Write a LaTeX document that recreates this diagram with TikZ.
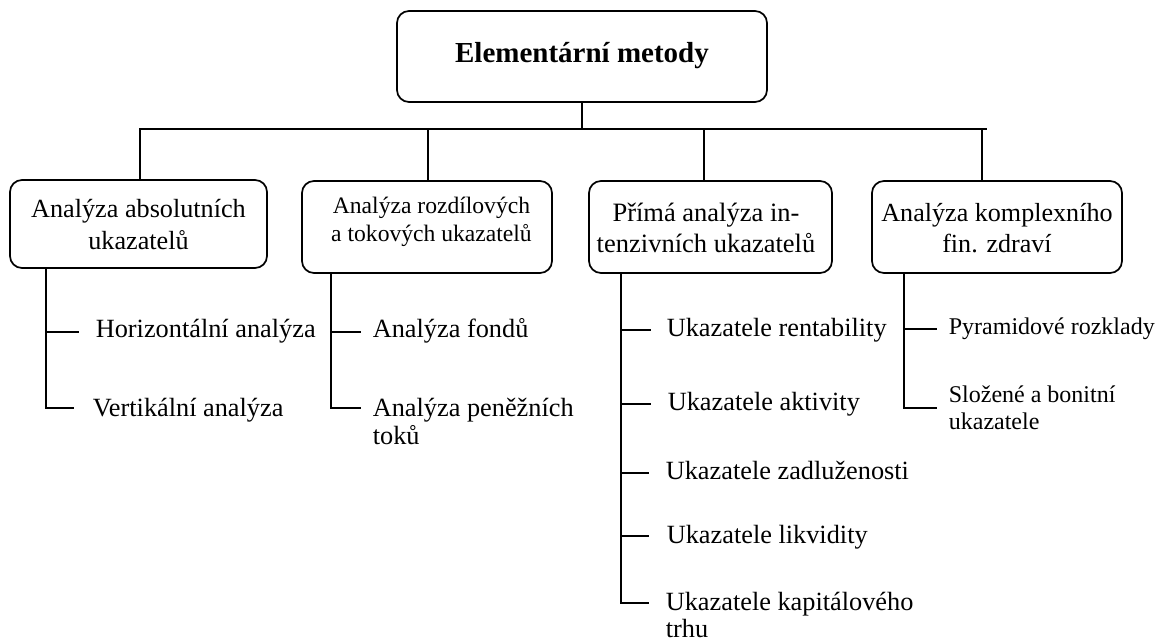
\documentclass[tikz,border=0pt]{standalone}
\usepackage{fontspec}
\setmainfont{Liberation Serif}
\begin{document}
\begin{tikzpicture}[x=1pt,y=-1pt,
  line width=1.7pt,
  box/.style={draw, rounded corners=12pt, inner sep=0pt, text height=0pt},
  item/.style={anchor=base west, inner sep=0pt, font=\fontsize{26.3}{27}\selectfont},
  smallitem/.style={anchor=base west, inner sep=0pt, font=\fontsize{24}{27}\selectfont}]

\fill[white] (0,0) rectangle (1163,644);
\useasboundingbox (0,0) rectangle (1163,644);

% main boxes
\node[box, minimum width=370pt, minimum height=91pt, text height=12pt, text depth=0pt,
      font=\fontsize{29}{34}\selectfont\bfseries] (top) at (582,56.5) {Elementární metody};
\node[box, minimum width=257pt, minimum height=88pt, text depth=12pt,
      font=\fontsize{26.2}{32}\selectfont] (b1) at (138.5,224)
      {\begin{tabular}[t]{@{}c@{}}Analýza absolutních\\ukazatelů\end{tabular}};
\node[box, minimum width=250pt, minimum height=92pt, text depth=26pt,
      font=\fontsize{23.6}{27.5}\selectfont] (b2) at (427,227)
      {\hspace*{9pt}\begin{tabular}[t]{@{}c@{}}Analýza rozdílových\\a tokových ukazatelů\end{tabular}};
\node[box, minimum width=243pt, minimum height=92pt, text depth=11pt,
      font=\fontsize{26.5}{31}\selectfont] (b3) at (710.5,227)
      {\begin{tabular}[t]{@{}c@{}}Přímá analýza in-\\tenzivních ukazatelů\end{tabular}\hspace*{9pt}};
\node[box, minimum width=250pt, minimum height=92pt, text depth=11pt,
      font=\fontsize{26.1}{31}\selectfont] (b4) at (997,227)
      {\begin{tabular}[t]{@{}c@{}}Analýza komplexního\\fin. zdraví\end{tabular}};

% top-level connectors
\coordinate (barL) at (140,129);
\coordinate (barR) at (987,129);
\coordinate (v2) at (428,129);
\coordinate (v3) at (704,129);
\coordinate (v4) at (982,129);
\draw (top.south) -- (top.south |- barL);
\draw (barL |- b1.north) -- (barL) -- (barR);
\draw (v2) -- (v2 |- b2.north);
\draw (v3) -- (v3 |- b3.north);
\draw (v4) -- (v4 |- b4.north);

% column x positions
\coordinate (x1) at (46,0);
\coordinate (x2) at (331,0);
\coordinate (x3) at (621,0);
\coordinate (x4) at (904,0);

% column 1
\node[item] (h1) at (95,338) {Horizontální analýza};
\node[item] (h2) at (92,417) {Vertikální analýza};
\coordinate (t11) at ([xshift=-16pt,yshift=6pt]h1.base west);
\coordinate (t12) at ([xshift=-18pt,yshift=9pt]h2.base west);
\draw (b1.south -| x1) |- (t12);
\draw (t11 -| x1) -- (t11);

% column 2
\node[item] (f1) at (372,338) {Analýza fondů};
\node[item] (f2) at (372,417) {\begin{tabular}[t]{@{}l@{}}Analýza peněžních\\toků\end{tabular}};
\coordinate (t21) at ([xshift=-11pt,yshift=6pt]f1.base west);
\coordinate (t22) at ([xshift=-11pt,yshift=9pt]f2.base west);
\draw (b2.south -| x2) |- (t22);
\draw (t21 -| x2) -- (t21);

% column 3
\node[item] (r1) at (666,337) {Ukazatele rentability};
\node[item] (r2) at (667,411) {Ukazatele aktivity};
\node[item] (r3) at (665,479) {Ukazatele zadluženosti};
\node[item] (r4) at (666,543) {Ukazatele likvidity};
\node[item] (r5) at (665,610) {\begin{tabular}[t]{@{}l@{}}Ukazatele kapitálového\\trhu\end{tabular}};
\coordinate (t31) at ([xshift=-15pt,yshift=7pt]r1.base west);
\coordinate (t32) at ([xshift=-16pt,yshift=7pt]r2.base west);
\coordinate (t33) at ([xshift=-16pt,yshift=6pt]r3.base west);
\coordinate (t34) at ([xshift=-17pt,yshift=7pt]r4.base west);
\coordinate (t35) at ([xshift=-16pt,yshift=7pt]r5.base west);
\draw (b3.south -| x3) |- (t35);
\draw (t31 -| x3) -- (t31);
\draw (t32 -| x3) -- (t32);
\draw (t33 -| x3) -- (t33);
\draw (t34 -| x3) -- (t34);

% column 4
\node[smallitem] (p1) at (948,335) {Pyramidové rozklady};
\node[smallitem] (p2) at (948,403) {\begin{tabular}[t]{@{}l@{}}Složené a bonitní\\ukazatele\end{tabular}};
\coordinate (t41) at ([xshift=-11pt,yshift=6pt]p1.base west);
\coordinate (t42) at ([xshift=-11pt,yshift=-5pt]p2.base west);
\draw (b4.south -| x4) |- (t42);
\draw (t41 -| x4) -- (t41);
\end{tikzpicture}
\end{document}
